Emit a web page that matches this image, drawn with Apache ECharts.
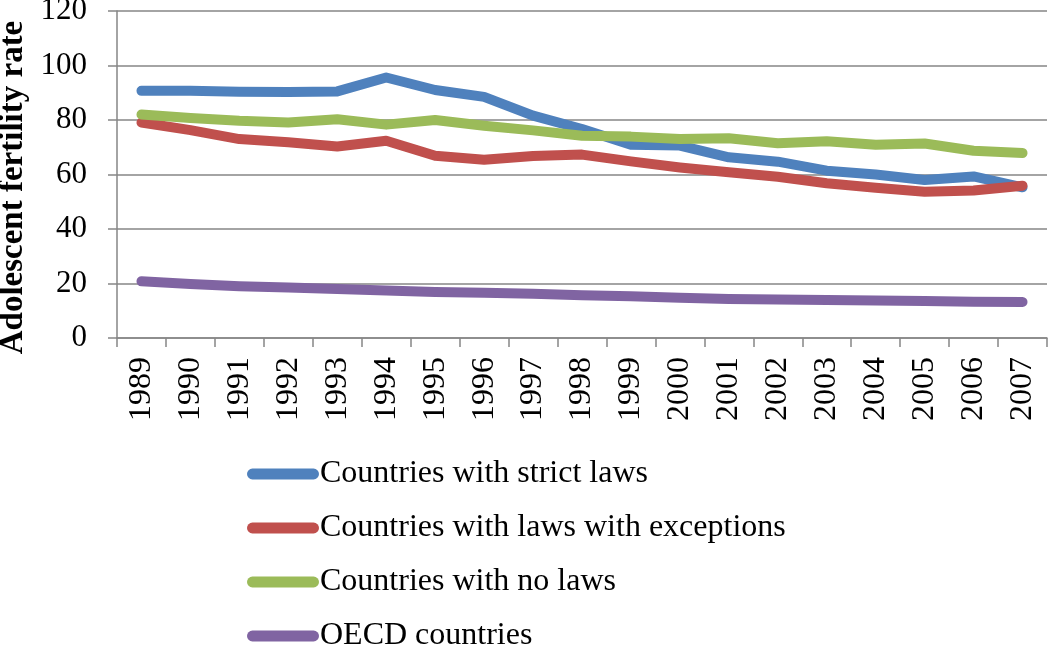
<!DOCTYPE html>
<html>
<head>
<meta charset="utf-8">
<script src="https://cdn.jsdelivr.net/npm/echarts@6/dist/echarts.min.js"></script>
<style>html,body{margin:0;padding:0;background:#fff;}#c{width:1050px;height:646px;}</style>
</head>
<body>
<div id="c"></div>
<script>
const years = ['1989','1990','1991','1992','1993','1994','1995','1996','1997','1998','1999','2000','2001','2002','2003','2004','2005','2006','2007'];
const strictLaws = [90.7,90.7,90.4,90.3,90.5,95.6,91.0,88.5,81.6,76.7,70.9,70.6,66.3,64.7,61.4,60.0,58.0,59.3,55.3];
const lawsWithExceptions = [79.1,76.3,73.0,71.8,70.3,72.4,66.9,65.4,66.8,67.3,64.8,62.6,60.8,59.2,56.8,55.1,53.7,54.1,55.9];
const noLaws = [82.0,80.7,79.7,79.1,80.3,78.3,80.0,77.9,76.2,74.2,73.9,73.0,73.3,71.5,72.2,70.9,71.4,68.7,67.9];
const oecd = [20.8,19.8,19.0,18.5,18.0,17.4,16.9,16.6,16.2,15.7,15.3,14.8,14.3,14.1,13.9,13.8,13.6,13.3,13.2];
const seriesNames = ['Countries with strict laws','Countries with laws with exceptions','Countries with no laws','OECD countries'];
const seriesColors = ['#4F81BD','#C0504D','#9BBB59','#8064A2'];
const yTicks = [0,20,40,60,80,100,120];

const FONT = '"Liberation Serif", "DejaVu Serif", serif';
const chart = echarts.init(document.getElementById('c'));
const dataSets = [strictLaws, lawsWithExceptions, noLaws, oecd];
chart.setOption({
  animation: false,
  backgroundColor: '#fff',
  grid: {left: 117, right: 3, top: 11, bottom: 308, containLabel: false, outerBoundsMode: 'none'},
  xAxis: {
    type: 'category',
    data: years,
    boundaryGap: true,
    axisLine: {lineStyle: {color: '#868686', width: 1.5}},
    axisTick: {show: true, length: 9, lineStyle: {color: '#868686', width: 1.5}},
    axisLabel: {rotate: 90, margin: 19, color: '#000', fontFamily: FONT, fontSize: 32, interval: 0}
  },
  yAxis: {
    type: 'value',
    min: yTicks[0], max: yTicks[yTicks.length-1], interval: 20,
    name: 'Adolescent fertility rate',
    nameLocation: 'middle',
    nameGap: 86,
    nameRotate: 90,
    nameTextStyle: {color: '#000', fontFamily: FONT, fontSize: 33, fontWeight: 'bold', padding: [0, 26, 0, 0]},
    axisLine: {show: true, lineStyle: {color: '#868686', width: 1.5}},
    axisTick: {show: true, length: 9, lineStyle: {color: '#868686', width: 1.5}},
    splitLine: {lineStyle: {color: '#868686', width: 1.5}},
    axisLabel: {margin: 30, color: '#000', fontFamily: FONT, fontSize: 31, padding: [6,0,0,0]}
  },
  legend: {
    orient: 'vertical',
    left: 247,
    top: 458,
    height: 260,
    padding: 0,
    itemWidth: 72,
    itemHeight: 11,
    itemGap: 22,
    icon: 'path://M5,0 H67 A5.5,5.5 0 0 1 67,11 H5 A5.5,5.5 0 0 1 5,0 Z',
    textStyle: {color: '#000', fontFamily: FONT, fontSize: 32, padding: [0,0,0,-4]},
    data: seriesNames
  },
  series: seriesNames.map((n, i) => ({
    name: n,
    type: 'line',
    data: dataSets[i],
    symbol: 'none',
    color: seriesColors[i],
    lineStyle: {width: 10, cap: 'round', join: 'round', color: seriesColors[i]}
  }))
});
</script>
</body>
</html>
